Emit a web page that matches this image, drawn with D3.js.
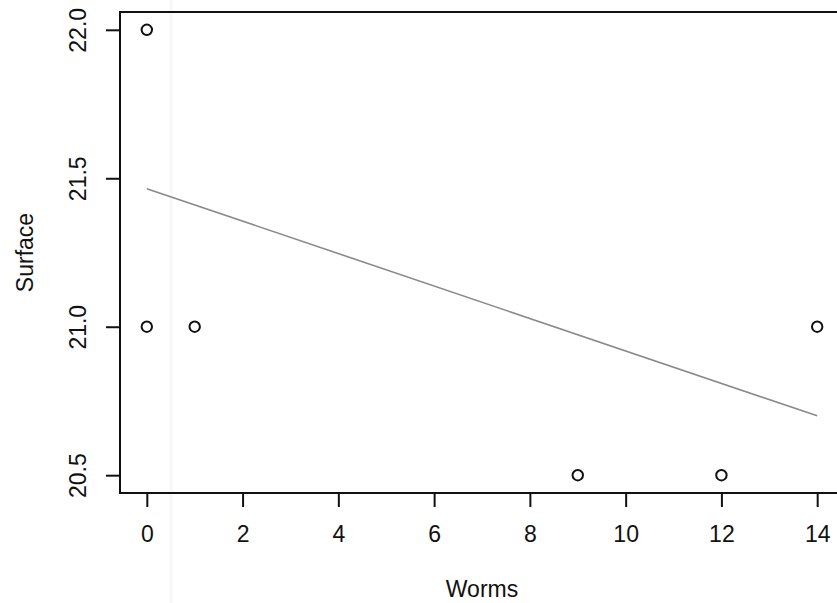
<!DOCTYPE html>
<html>
<head>
<meta charset="utf-8">
<script src="https://cdn.jsdelivr.net/npm/d3@7"></script>
<style>
  body { margin: 0; background: #fff; }
  svg { display: block; font-family: "Liberation Sans", Arial, sans-serif; }
</style>
</head>
<body>
<script>
// observed points
const worms = [0, 0, 1, 9, 12, 14];
const surface = [22, 21, 21, 20.5, 20.5, 21];
// fitted line, ends
const fitX = [0, 14];
const fitY = [21.465, 20.70];
const xTicks = [0, 2, 4, 6, 8, 10, 12, 14];
const yTicks = [20.5, 21.0, 21.5, 22.0];

const width = 837, height = 603;
const margin = {top: 12, right: -7, bottom: 110, left: 120};

const svg = d3.select('body').append('svg')
    .attr('width', width)
    .attr('height', height);

// R style 4% padding round the data range
const x = d3.scaleLinear()
    .domain([-0.56, 14.56])
    .range([margin.left, width - margin.right]);
const y = d3.scaleLinear()
    .domain([20.44, 22.06])
    .range([height - margin.bottom, margin.top]);

// faint scan streak
svg.append('line')
    .attr('x1', 171).attr('x2', 171)
    .attr('y1', 0).attr('y2', height)
    .attr('stroke', '#f7f7f7')
    .attr('stroke-width', 3);

// box
svg.append('rect')
    .attr('x', x.range()[0])
    .attr('y', y.range()[1])
    .attr('width', x.range()[1] - x.range()[0])
    .attr('height', y.range()[0] - y.range()[1])
    .attr('fill', 'none')
    .attr('stroke', '#111')
    .attr('stroke-width', 2);

const xAxis = svg.append('g')
    .attr('transform', 'translate(0,' + y.range()[0] + ')')
    .call(d3.axisBottom(x).tickValues(xTicks).tickSize(14).tickPadding(19).tickFormat(d3.format('d')));
xAxis.select('.domain').remove();

const yAxis = svg.append('g')
    .attr('transform', 'translate(' + x.range()[0] + ',0)')
    .call(d3.axisLeft(y).tickValues(yTicks).tickSize(14).tickFormat(d3.format('.1f')));
yAxis.select('.domain').remove();

svg.selectAll('.tick line')
    .attr('stroke', '#111')
    .attr('stroke-width', 2);
svg.selectAll('.tick text')
    .attr('fill', '#111')
    .style('font-size', '23px');

yAxis.selectAll('.tick text')
    .attr('x', null)
    .attr('dy', null)
    .attr('text-anchor', 'middle')
    .attr('transform', 'translate(-42,0) rotate(-90)')
    .attr('dominant-baseline', 'central');

svg.append('text')
    .attr('x', (x.range()[0] + x.range()[1]) / 2)
    .attr('y', 597)
    .attr('text-anchor', 'middle')
    .attr('fill', '#111')
    .style('font-size', '23px')
    .text('Worms');

svg.append('text')
    .attr('transform', 'translate(25,' + (y.range()[0] + y.range()[1]) / 2 + ') rotate(-90)')
    .attr('text-anchor', 'middle')
    .attr('dominant-baseline', 'central')
    .attr('fill', '#111')
    .style('font-size', '23px')
    .text('Surface');

// regression line
svg.append('line')
    .attr('x1', x(fitX[0])).attr('y1', y(fitY[0]))
    .attr('x2', x(fitX[1])).attr('y2', y(fitY[1]))
    .attr('stroke', '#8a8a8a')
    .attr('stroke-width', 1.6);

svg.selectAll('circle.pt')
    .data(worms.map((w, i) => ({w: w, s: surface[i]})))
    .join('circle')
    .attr('class', 'pt')
    .attr('cx', d => x(d.w))
    .attr('cy', d => y(d.s))
    .attr('r', 5.2)
    .attr('fill', 'none')
    .attr('stroke', '#111')
    .attr('stroke-width', 2);
</script>
</body>
</html>
